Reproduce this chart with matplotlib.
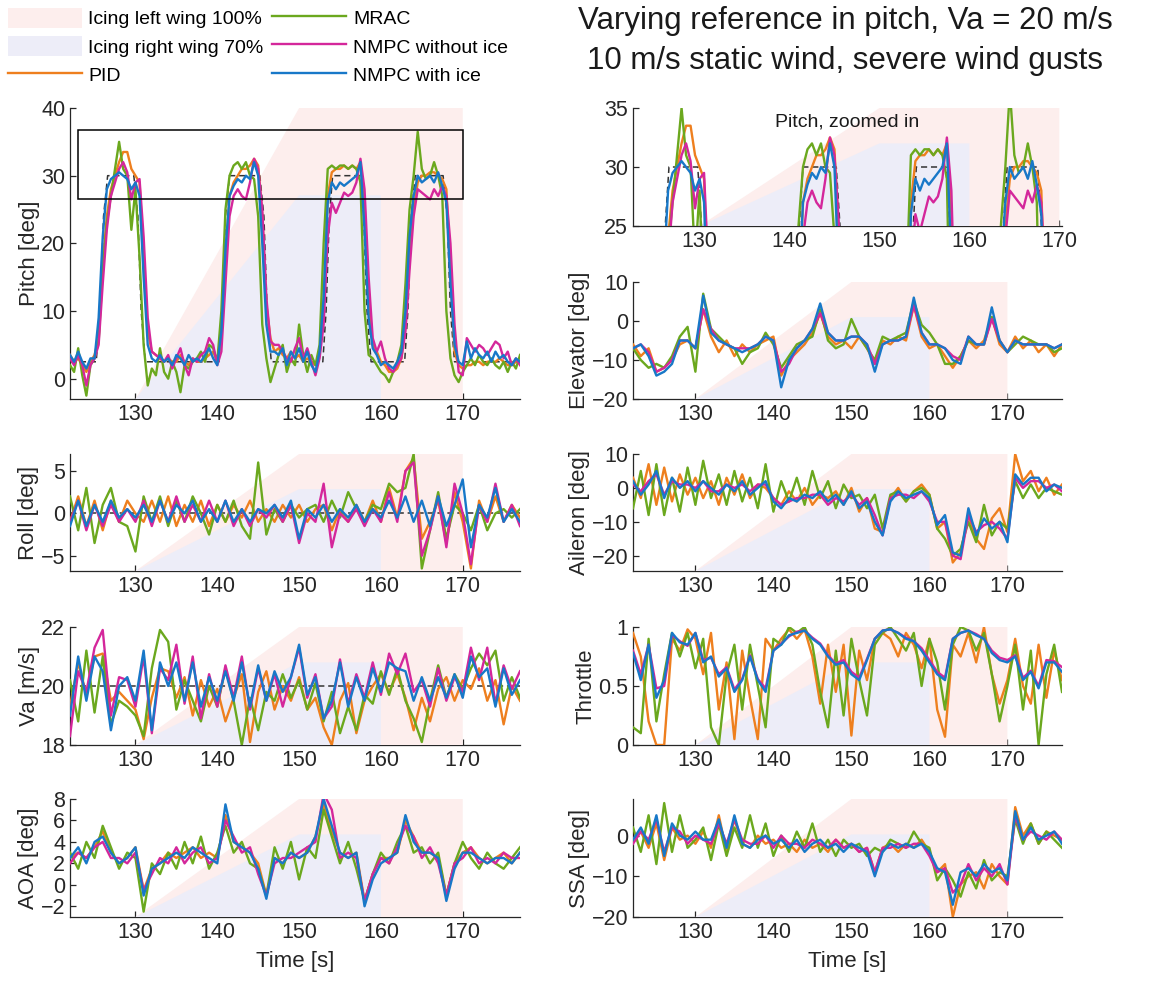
import numpy as np
import matplotlib
matplotlib.use('Agg')
import matplotlib.pyplot as plt
import matplotlib.transforms as mtransforms
from matplotlib.patches import Patch, Rectangle
from matplotlib.lines import Line2D

plt.rcParams['font.family'] = ['Liberation Sans', 'DejaVu Sans']

# ---- time axes (pitch read every 0.5 s, the rest every 1 s) ----
t_pitch = np.arange(122.0, 177.01, 0.5)
t = np.arange(122.0, 177.01, 1.0)

controllers = ['PID', 'MRAC', 'NMPC without ice', 'NMPC with ice']
colors = ['#EE7F1E', '#6BA81E', '#D4279B', '#1878C8']

# icing ramps: time breakpoints and fraction of the axis height
ice_left_t = [130, 150, 170, 170]
ice_left_frac = [0, 1, 1, 0]
ice_right_t = [130, 150, 160, 160]
ice_right_frac = [0, 0.7, 0.7, 0]

# pitch reference (dashed)
pitch_ref_t = [122, 125.2, 125.7, 126.1, 126.6, 129.8, 130.3, 130.7, 131.2,
               140.2, 140.6, 141.0, 141.5, 145.2, 145.7, 146.1, 146.6,
               152.9, 153.3, 153.7, 154.1, 157.4, 157.9, 158.3, 158.8,
               162.9, 163.3, 163.7, 164.2, 167.6, 168.1, 168.5, 169.0, 177]
pitch_ref = [2.5, 2.5, 10, 24, 30, 30, 24, 10, 2.5,
             2.5, 10, 24, 30, 30, 24, 10, 2.5,
             2.5, 10, 24, 30, 30, 24, 10, 2.5,
             2.5, 10, 24, 30, 30, 24, 10, 2.5, 2.5]
roll_ref = 0.0
va_ref = 20.0

# ---- pitch [deg], 0.5 s ----
pitch_pid = [3.5, 2.5, 3.0, 2.0, 1.0, 2.5, 3.5, 6.0, 17.0, 24.0,
             28.0, 30.0, 32.0, 33.5, 33.5, 31.0, 30.0, 29.0, 18.0, 7.0,
             4.0, 3.5, 3.0, 2.5, 3.0, 2.5, 2.5, 3.5, 2.5, 2.0,
             3.0, 2.5, 2.5, 3.0, 3.5, 4.0, 2.5, 6.0, 18.0, 27.0,
             29.0, 30.0, 31.0, 31.0, 31.5, 32.5, 31.5, 24.0, 11.0, 6.0,
             4.0, 4.5, 3.5, 3.0, 4.0, 3.0, 3.5, 2.5, 3.0, 2.5,
             2.0, 3.5, 11.0, 27.0, 30.5, 31.0, 31.0, 31.5, 31.0, 31.5,
             31.0, 32.0, 26.0, 12.0, 5.0, 4.0, 2.5, 2.0, 1.0, 1.0,
             1.5, 3.0, 8.0, 18.0, 25.0, 29.0, 30.0, 30.0, 30.5, 30.5,
             30.0, 29.5, 28.0, 16.0, 4.0, 2.0, 1.5, 2.0, 2.0, 2.5,
             2.5, 2.0, 2.5, 2.5, 2.5, 3.0, 2.5, 2.0, 2.0, 2.5,
             2.5]
pitch_mrac = [2.0, 1.0, 4.5, 0.5, -2.5, 2.0, 3.0, 5.5, 16.0, 23.0,
              27.0, 31.0, 35.0, 31.0, 30.0, 22.0, 28.0, 18.0, 5.0, -1.0,
              1.5, 0.5, 4.5, 1.0, 0.0, 2.5, 1.0, -2.0, 2.0, 1.5,
              2.5, 3.0, 4.0, 2.5, 5.0, 4.5, 2.5, 10.0, 25.0, 30.0,
              31.5, 32.0, 31.0, 32.0, 30.0, 29.5, 24.0, 8.0, 3.0, -0.5,
              1.5, 3.5, 5.0, 1.0, 3.0, 2.0, 8.0, 3.5, 1.0, 3.5,
              2.0, 5.0, 20.0, 31.0, 31.5, 31.0, 31.5, 31.5, 31.0, 31.5,
              31.0, 29.0, 10.0, 3.5, 3.0, 2.0, 1.0, 0.5, -0.5, 1.0,
              2.5, 5.0, 14.0, 25.0, 30.0, 36.5, 31.0, 29.5, 30.0, 32.0,
              30.0, 27.0, 10.0, 3.0, 0.5, -0.5, 1.0, 2.0, 3.0, 2.0,
              3.5, 2.5, 2.0, 3.0, 2.0, 1.5, 2.5, 1.0, 2.5, 1.5,
              3.5]
pitch_nmpc = [3.0, 2.0, 3.5, 2.0, -1.0, 2.0, 3.0, 5.0, 14.0, 22.0,
              27.0, 29.0, 31.0, 32.0, 30.5, 26.5, 29.0, 29.5, 21.0, 9.0,
              4.0, 3.5, 3.0, 2.5, 3.5, 1.5, 3.0, 4.5, 2.0, 0.5,
              3.0, 2.5, 3.5, 4.0, 6.0, 5.0, 2.0, 4.0, 14.0, 24.0,
              27.0, 28.0, 27.0, 26.5, 29.0, 32.5, 31.0, 25.0, 12.0, 5.5,
              5.0, 5.0, 4.0, 3.0, 2.5, 4.5, 6.0, 3.0, 4.5, 2.5,
              0.5, 3.0, 8.0, 21.0, 26.0, 24.5, 26.0, 27.5, 27.0, 27.5,
              29.0, 32.5, 28.0, 15.0, 6.0, 4.0, 5.5, 3.0, 1.5, 1.0,
              2.0, 3.0, 7.0, 16.0, 24.0, 28.0, 27.5, 27.0, 26.5, 28.0,
              27.0, 28.5, 27.0, 20.0, 8.0, 1.0, 0.5, 6.0, 5.0, 4.0,
              5.0, 4.5, 3.5, 4.5, 5.5, 5.0, 3.0, 4.0, 2.0, 3.0,
              2.0]
pitch_nmpc_ice = [3.5, 2.5, 4.0, 2.5, 1.5, 3.0, 3.0, 9.0, 21.0, 28.0,
                  29.5, 30.0, 30.5, 30.0, 29.5, 28.0, 29.0, 27.0, 15.0, 5.0,
                  3.0, 2.5, 3.5, 2.5, 3.0, 2.0, 3.5, 3.0, 2.0, 3.5,
                  2.5, 3.0, 2.5, 3.5, 4.5, 3.0, 2.0, 7.0, 19.0, 27.0,
                  28.5, 29.5, 29.0, 30.0, 29.5, 32.0, 30.0, 20.0, 8.0, 4.0,
                  4.0, 3.5, 4.5, 2.0, 4.0, 3.0, 4.5, 2.5, 4.0, 2.0,
                  1.0, 4.0, 12.0, 26.0, 29.0, 28.0, 29.0, 28.5, 29.0, 29.5,
                  30.0, 32.0, 22.0, 9.0, 4.5, 3.5, 2.0, 2.5, 2.0, 1.5,
                  2.5, 4.0, 10.0, 21.0, 27.0, 30.0, 29.0, 29.5, 30.0, 29.0,
                  30.5, 28.5, 26.0, 14.0, 5.0, 2.5, 2.0, 5.5, 3.0, 4.5,
                  3.5, 3.0, 4.0, 2.5, 4.0, 3.0, 3.5, 2.5, 2.0, 3.0,
                  2.5]

# ---- elevator [deg], 1 s ----
elev_pid = [-6, -9, -7, -13, -12, -10, -6, -5, -7, 3, -4, -8, -5, -9, -6, -8, -6, -5, -4, -14,
            -10, -8, -6, -3, 2, -4, -6, -5, -7, -4, -7, -11, -5, -6, -4, -5, 4, -4, -7, -6,
            -9, -12, -9, -5, -7, -5, 1, -6, -8, -4, -7, -5, -8, -6, -9, -6]
elev_mrac = [-7, -10, -12, -11, -12, -9, -4, -1.5, -13, 7, -2, -4, -6, -7, -11, -8, -7, -3, -6, -12,
             -9, -6, -5, -4, 3, -5, -7, -6, 0.5, -4, -7, -10, -4, -5, -4, -3, 5, -1, -3, -6,
             -11, -11, -9, -5, -6, -6, 1, -5, -8, -6, -4, -5, -6, -6, -8, -7]
elev_nmpc = [-7, -6, -8, -13, -12, -10, -5, -5, -7, 3, -2, -5, -6, -7, -7, -7, -6, -4, -5, -13,
             -11, -7, -5, -2, 2, -3, -5, -5, -4, -4, -6, -11, -6, -5, -5, -4, 4, -3, -6, -6,
             -7, -9, -10, -4, -6, -6, 0.5, -5, -8, -5, -6, -6, -6, -6, -7, -6]
elev_nmpc_ice = [-7, -6, -9, -14, -13, -11, -5, -5, -7, 6.5, -3, -5, -6, -7, -8, -7, -6, -4, -5, -17,
                 -10, -7, -5, -2, 4.5, -3, -5, -5, -4, -4, -6, -13, -6, -5, -5, -4, 6, -3, -6, -6,
                 -7, -10, -11, -4, -6, -6, 3.5, -5, -8, -5, -6, -6, -6, -6, -7, -6]

# ---- roll [deg] ----
roll_pid = [-1, 2, -1.5, 1.5, -2, 1.5, -1, 1.5, 0, -1, 1.5, -1, 2, -1.5, 1, -1, 1.5, -1.5, 1, -1,
            1, -0.5, 1.5, -1, 0.5, -1, 1, -0.5, 1, -1, 0.5, 1, -2, 0.5, -1, 1, -1, 1.5, -1, 3,
            -0.5, 5, 6.5, -3, -1, 1.5, -3.5, 2.5, -1, -6.5, 1.5, -1, 2, -1, 1, -0.5]
roll_mrac = [2, -2, 3, -3.5, 1, 3, -1, -1.5, -4.5, 2, -1, 2, -1.5, 1.5, -1, 2, 0, -2.5, 1, -1,
             1.5, -1.5, -3, 6, -2.5, 0.5, -1, 1, -0.5, 0.5, 1, -1, 1.5, -0.5, 2.5, 0.5, -1, 1, 0.5, 3.5,
             2.5, 3, 7, -6.5, -2, 2.5, -3, 1, 0, -2, 1, -2, 0, 0.5, -0.5, 0.5]
roll_nmpc = [-1, 1.5, -2, 1, -1.5, 1, -1, 0.5, -1, 1.5, -1.5, 1.5, -1, 2, -1, 1, -1, 1.5, -1, 1.5,
             -1.5, 0.5, -1.5, 0.5, -0.5, 1, -1, 1, -3.5, 0, -1, 3.5, -4, 0, -1, 0.5, -1.5, 0.5, -1, 2.5,
             -1, 5, 6, -5, -2, 2, -4, 3.5, 0, -6, 1, -1, 3.5, -1, 1, -1.5]
roll_nmpc_ice = [-1.5, 1.5, -1.5, 1, -1, 1.5, -0.5, 0.5, -0.5, 1, -1, 1.5, -1, 1, 0, 1.5, -1, 0.5, -1, 1.5,
                 -1, 0.5, -1, 0.5, 0, 1, -0.5, 1.5, -3, 0.5, -0.5, 1, -1, 0.5, -0.5, 1, -1, 0.5, -0.5, 1.5,
                 -0.5, 2, -1, 1.5, -1.5, 2, -1.5, 1, 4, -4, 1, -0.5, 3, -1, 0.5, -1]

# ---- aileron [deg] ----
ail_pid = [3, -3, 7, -5, 6, -4, 4, -2, 3, -3, 2, -5, 3, -2, 4, -3, 1, 0, -3, -5,
           -1, -4, 0, -5, -2, -3, -1, -5, 0, -7, -3, -12, -13, -3, 0, -4, -1, 1, -2, -12,
           -10, -22, -19, -8, -15, -18, -9, -6, -13, 10, 2, 5, -1, 3, -2, 1]
ail_mrac = [-6, 5, -8, 7, -8, 3, -7, 6, -5, 8, -3, 4, -5, 5, -4, 3, -6, 7, -7, 2,
            -4, 3, -5, 5, -3, 2, -6, 1, -3, -2, -6, -2, -12, -2, -1, -4, -1, 0, -2, -12,
            -15, -20, -18, -10, -16, -5, -14, -10, -12, 2, -3, 1, -3, 0, -1, -2]
ail_nmpc = [1, -1, 2, 4, -2, 2, 1, 1, 0, 2, -1, -1, 1, 0, 1, -1, 1, 1, -3, -5,
            -4, -3, -3, -2, -2, -5, -3, -4, -2, -5, -3, -8, -14, -3, -2, -2, -3, -1, -4, -10,
            -10, -20, -21, -8, -13, -11, -10, -12, -15, 3, 0, 2, 2, 0, 1, -1]
ail_nmpc_ice = [2, -2, 1, 5, -3, 3, 0, 2, -1, 2, 0, -2, 1, -1, 2, -2, 0, 2, -4, -6,
                -3, -4, -2, -3, -1, -4, -2, -5, -1, -6, -4, -10, -14, -4, -1, -3, -2, -1, -3, -11,
                -8, -19, -20, -6, -14, -9, -12, -10, -16, 4, 1, 3, 3, -1, 1, 0]

# ---- airspeed [m/s] ----
va_pid = [19.3, 20.8, 19.7, 21, 21.1, 19.5, 19.8, 19.5, 19.2, 18.2,
          19.6, 20.6, 20.5, 19.6, 20.3, 19, 20.2, 19.3, 19.9, 18.8,
          19.6, 20.4, 18.1, 19.8, 20.5, 19.2, 20, 19.5, 20.3, 19.2,
          19.6, 18.6, 18, 19.5, 20.1, 18.4, 19.5, 20, 20.4, 19.8,
          20.4, 19.6, 18.5, 19.6, 18.8, 19.9, 20.3, 19.5, 20.2, 19.9,
          20.6, 19.5, 20.2, 18.7, 20, 19.5]
va_mrac = [20.2, 18.8, 21.2, 19.1, 21, 18.7, 19.5, 19.3, 19, 18.3,
           20.6, 21.9, 21.5, 19.2, 20.2, 19.5, 18.8, 20, 19.3, 20.6,
           19.5, 18, 19.6, 18.5, 19.8, 19.5, 20.4, 19.6, 20.2, 19.2,
           20.1, 18.8, 19.8, 18.4, 19.3, 18.5, 19.7, 19.4, 20.5, 19.7,
           20.6, 19.5, 18.9, 18.1, 19.5, 20.7, 19.6, 20.4, 19.9, 20.6,
           21.1, 20.7, 21.2, 19.5, 20.3, 19.6]
va_nmpc = [18.3, 20.5, 19.8, 21.3, 21.9, 19, 20.3, 20.2, 19.3, 21,
           18.4, 20.6, 20.2, 21.4, 19.4, 21, 18.9, 20.4, 19.3, 20.7,
           19.6, 21, 19.2, 20.6, 19.5, 20.4, 19.3, 20.3, 21.3, 19.6,
           20.4, 18.9, 19.3, 20.9, 19.4, 20.4, 19.6, 20.8, 19.7, 21.1,
           20.4, 21.1, 19.8, 20.2, 19.3, 20.6, 19.5, 20.3, 19.8, 21.3,
           20.2, 21.3, 19.4, 20.7, 19.9, 20.5]
va_nmpc_ice = [19, 21, 19.5, 21, 20.5, 18.5, 20, 20.3, 19.5, 21.2,
               18.5, 20.8, 20, 20.8, 19.5, 20.8, 19.3, 20.3, 19.5, 20.5,
               19.5, 20.8, 19.3, 20.7, 19.5, 20.5, 19.8, 20.3, 21.4, 19.7,
               20.3, 18.9, 19.5, 20.8, 19.3, 20.3, 19.5, 20.6, 19.8, 20.8,
               20.6, 20.5, 19.5, 20.3, 19.5, 20.3, 19.6, 20.4, 19.6, 21,
               20.3, 20.6, 19.3, 20.6, 19.7, 20.2]

# ---- throttle [-] ----
thr_pid = [0.95, 0.75, 0.2, 0.0, 0.0, 0.9, 0.8, 0.98, 0.9, 0.6,
           0.95, 0.3, 0.7, 0.05, 0.8, 0.4, 0.05, 0.9, 0.8, 0.9,
           0.98, 0.9, 0.98, 0.75, 0.35, 0.85, 0.45, 0.85, 0.08, 0.8,
           0.55, 0.9, 0.95, 0.9, 0.75, 0.95, 0.85, 0.65, 0.9, 0.3,
           0.07, 0.85, 0.75, 0.95, 0.7, 1.0, 0.6, 0.35, 0.55, 0.9,
           0.5, 0.35, 0.85, 0.4, 0.8, 0.55]
thr_mrac = [0.15, 0.1, 0.9, 0.2, 0.6, 0.95, 0.75, 0.95, 0.65, 0.9,
            0.15, 0.0, 0.6, 0.85, 0.3, 0.85, 0.5, 0.15, 0.9, 0.85,
            1.0, 0.95, 1.0, 0.85, 0.45, 0.15, 0.8, 0.25, 0.9, 0.55,
            0.25, 0.85, 0.95, 1.0, 0.9, 0.8, 0.95, 0.5, 0.9, 0.7,
            0.3, 0.85, 1.0, 0.97, 0.8, 0.95, 0.6, 0.2, 0.5, 0.85,
            0.3, 0.8, 0.0, 0.6, 0.85, 0.45]
thr_nmpc = [0.8, 0.6, 0.85, 0.48, 0.5, 0.93, 0.88, 0.84, 0.95, 0.72,
            0.74, 0.6, 0.66, 0.47, 0.56, 0.76, 0.56, 0.48, 0.8, 0.86,
            0.92, 0.96, 0.97, 0.91, 0.86, 0.76, 0.69, 0.72, 0.62, 0.57,
            0.73, 0.9, 0.97, 0.98, 0.95, 0.91, 0.88, 0.82, 0.72, 0.62,
            0.57, 0.9, 0.95, 0.97, 0.94, 0.9, 0.8, 0.74, 0.72, 0.76,
            0.57, 0.63, 0.5, 0.72, 0.71, 0.66]
thr_nmpc_ice = [0.78, 0.55, 0.85, 0.4, 0.55, 0.95, 0.87, 0.85, 0.95, 0.7,
                0.75, 0.58, 0.65, 0.45, 0.55, 0.75, 0.55, 0.45, 0.8, 0.85,
                0.93, 0.95, 0.97, 0.9, 0.85, 0.75, 0.68, 0.7, 0.6, 0.55,
                0.72, 0.9, 0.97, 0.98, 0.95, 0.9, 0.88, 0.8, 0.7, 0.6,
                0.55, 0.9, 0.95, 0.97, 0.93, 0.9, 0.78, 0.72, 0.7, 0.75,
                0.55, 0.62, 0.48, 0.7, 0.7, 0.62]

# ---- angle of attack [deg] ----
aoa_pid = [2.5, 3, 2.5, 3.5, 5, 3, 2, 2.5, 3.5, -0.5,
           1.5, 2, 3, 2.5, 3, 3.5, 2.5, 3, 2.5, 6.5,
           4, 3.5, 3, 2, -1, 2.5, 2, 3, 2.5, 3,
           4.5, 7.5, 5, 3, 2.5, 3, -1.5, 1, 2.5, 2.5,
           3, 6, 4.5, 3, 3, 2.5, -1, 2, 3, 3.5,
           2.5, 2, 2.5, 3, 2, 3]
aoa_mrac = [3, 1.5, 4, 2.5, 5.5, 3.5, 1.5, 3, 2.5, -2.5,
            2, 1, 3, 1.5, 4, 2, 4.5, 1.5, 3, 5.5,
            3, 4, 2, 1.5, -1, 3.5, 1.5, 4, 0.5, 3.5,
            2.5, 7, 4.5, 2, 4, 1.5, -1.5, 1, 3, 2,
            4, 5.5, 3, 3.5, 2, 3, -1, 2, 4, 2.5,
            1.5, 3, 2, 1.5, 2.5, 3.5]
aoa_nmpc = [2, 3, 2.5, 3.5, 4, 2.5, 2.5, 2, 3, -0.5,
            1, 2.5, 2, 3.5, 2, 3, 3.5, 2, 2.5, 6,
            4.5, 3, 3.5, 1, -1, 2, 2.5, 2.5, 3, 3.5,
            4, 8.5, 7, 2.5, 3, 2.5, -1.5, 1, 2.5, 2,
            3.5, 5.5, 4.5, 2.5, 3.5, 2, -1, 2, 2.5, 3.5,
            2, 2.5, 2, 3, 2.5, 2.5]
aoa_nmpc_ice = [2.5, 3.5, 2, 4, 4.5, 3, 2, 2.5, 3.5, -1,
                1.5, 2, 2.5, 3, 2.5, 3.5, 3, 2.5, 2, 7.5,
                4, 3.5, 3, 1.5, -1.3, 2.5, 2, 3, 2.5, 3,
                4.5, 8, 5.5, 3, 2.5, 3, -2, 0.5, 2, 2.5,
                3, 6.5, 4, 3, 3, 2.5, -1.5, 1.5, 3, 3,
                2.5, 2, 2.5, 2.5, 2, 3]

# ---- sideslip angle [deg] ----
ssa_pid = [-1, 1, -3, 3, -6, 2, -1, 0, -2, 1, -3, 5, -4, 4, -2, -3, 0, -2, -1, -3,
           -2, -4, -1, -3, -2, -4, -1, -3, -2, -4, -3, -9, -3, -2, -4, -2, -3, -1, -4, -9,
           -7, -20, -12, -10, -9, -13, -7, -10, -12, 7, 0, 3, -2, 1, 0, -1]
ssa_mrac = [2, -4, 5, -7, 8, -4, 5, -3, -1, 2, -6, 3, -5, 2, -3, 5, -3, 3, -5, 0,
            -4, 1, -3, 3, -4, -1, -5, -1, -3, -2, -5, -3, -4, -1, -2, -3, 1, -2, -3, -11,
            -8, -11, -15, -9, -13, -6, -11, -9, -10, 4, -2, 3, -2, 1, -1, -3]
ssa_nmpc = [-2, 1, -1, 4, -4, 2, 1, -2, 0, -1, -2, 3, -2, 4, -1, -2, -2, 0, -3, 0,
            -2, -2, -3, -1, -2, -3, -1, -3, -2, -4, -3, -9, -3, -3, -2, -3, -2, -2, -5, -9,
            -8, -14, -12, -7, -11, -8, -10, -7, -12, 5, -1, 1, 0, -1, 1, -1]
ssa_nmpc_ice = [-1, 2, -2, 5, -5, 3, 0, -1, 1, -1, -1, 4, -3, 5, -2, -3, -1, 0, -2, -1,
                -3, -1, -4, -2, -1, -3, -2, -4, -2, -3, -4, -10, -4, -2, -3, -2, -3, -2, -4, -8,
                -9, -17, -9, -8, -10, -7, -9, -8, -11, 6, -1, 2, -1, 0, 1, -2]

pink = '#FDEEED'
lavender = '#EDEDF8'
axis_col = '#262626'


def panel(ax, tt, series, ylim, yticks, ylabel, xlim=(122, 177), ref=None,
          yticklabels=None):
    trans = mtransforms.blended_transform_factory(ax.transData, ax.transAxes)
    ax.fill(ice_left_t, ice_left_frac, color=pink, lw=0, transform=trans, zorder=2.6)
    ax.fill(ice_right_t, ice_right_frac, color=lavender, lw=0, transform=trans, zorder=2.7)
    if ref is not None:
        ax.plot(ref[0], ref[1], linestyle=(0, (4, 2.5)), color='#333333', lw=1.1, zorder=2.9)
    for s, c in zip(series, colors):
        ax.plot(tt, s, color=c, lw=1.7, zorder=3)
    ax.set_xlim(*xlim)
    ax.set_ylim(*ylim)
    ax.set_xticks([130, 140, 150, 160, 170])
    ax.set_yticks(yticks)
    if yticklabels is not None:
        ax.set_yticklabels(yticklabels)
    ax.set_ylabel(ylabel, fontsize=16, color=axis_col, labelpad=1)
    for side in ['top', 'right']:
        ax.spines[side].set_visible(False)
    for side in ['left', 'bottom']:
        ax.spines[side].set_color(axis_col)
        ax.spines[side].set_linewidth(0.9)
    ax.tick_params(direction='in', length=4, width=0.9, colors=axis_col,
                   labelsize=15.5)


fig = plt.figure(figsize=(11.67, 9.82), dpi=100)

lx, lw_ = 70 / 1167, 450 / 1167
rx, rw = 633 / 1167, 429 / 1167

def frac(top, bottom):
    return [1 - bottom / 982, (bottom - top) / 982]

ax_pitch = fig.add_axes([lx, frac(108, 399)[0], lw_, frac(108, 399)[1]])
ax_zoom = fig.add_axes([rx, frac(108, 226)[0], rw, frac(108, 226)[1]])
ax_elev = fig.add_axes([rx, frac(282, 399)[0], rw, frac(282, 399)[1]])
ax_roll = fig.add_axes([lx, frac(454, 571)[0], lw_, frac(454, 571)[1]])
ax_ail = fig.add_axes([rx, frac(454, 571)[0], rw, frac(454, 571)[1]])
ax_va = fig.add_axes([lx, frac(627, 745)[0], lw_, frac(627, 745)[1]])
ax_thr = fig.add_axes([rx, frac(627, 745)[0], rw, frac(627, 745)[1]])
ax_aoa = fig.add_axes([lx, frac(799, 917)[0], lw_, frac(799, 917)[1]])
ax_ssa = fig.add_axes([rx, frac(799, 917)[0], rw, frac(799, 917)[1]])

pitch_series = [pitch_pid, pitch_mrac, pitch_nmpc, pitch_nmpc_ice]
panel(ax_pitch, t_pitch, pitch_series, (-3, 40), [0, 10, 20, 30, 40], 'Pitch [deg]',
      ref=(pitch_ref_t, pitch_ref))
zoom_box_t = (123.0, 170.0)
zoom_box_y = (26.5, 36.7)
ax_pitch.add_patch(Rectangle((zoom_box_t[0], zoom_box_y[0]), zoom_box_t[1] - zoom_box_t[0],
                             zoom_box_y[1] - zoom_box_y[0], fill=False, ec='black', lw=1.1, zorder=4))

panel(ax_zoom, t_pitch, pitch_series, (25, 35), [25, 30, 35], '', xlim=(122.6, 170.3),
      ref=(pitch_ref_t, pitch_ref))
ax_zoom.text(0.5, 0.95, 'Pitch, zoomed in', transform=ax_zoom.transAxes, ha='center',
             va='top', fontsize=14, color='#1a1a1a', zorder=5)

panel(ax_elev, t, [elev_pid, elev_mrac, elev_nmpc, elev_nmpc_ice], (-20, 10),
      [-20, -10, 0, 10], 'Elevator [deg]')
panel(ax_roll, t, [roll_pid, roll_mrac, roll_nmpc, roll_nmpc_ice], (-6.8, 7),
      [-5, 0, 5], 'Roll [deg]', ref=([122, 177], [roll_ref, roll_ref]))
panel(ax_ail, t, [ail_pid, ail_mrac, ail_nmpc, ail_nmpc_ice], (-24.5, 10),
      [-20, -10, 0, 10], 'Aileron [deg]')
panel(ax_va, t, [va_pid, va_mrac, va_nmpc, va_nmpc_ice], (18, 22),
      [18, 20, 22], 'Va [m/s]', ref=([122, 177], [va_ref, va_ref]))
panel(ax_thr, t, [thr_pid, thr_mrac, thr_nmpc, thr_nmpc_ice], (0, 1),
      [0, 0.5, 1], 'Throttle', yticklabels=['0', '0.5', '1'])
panel(ax_aoa, t, [aoa_pid, aoa_mrac, aoa_nmpc, aoa_nmpc_ice], (-3, 8),
      [-2, 0, 2, 4, 6, 8], 'AOA [deg]')
panel(ax_ssa, t, [ssa_pid, ssa_mrac, ssa_nmpc, ssa_nmpc_ice], (-20, 9),
      [-20, -10, 0], 'SSA [deg]')
for ax in (ax_aoa, ax_ssa):
    ax.set_xlabel('Time [s]', fontsize=16, color=axis_col, labelpad=6)

fig.text(0.724, 1 - 21 / 982, 'Varying reference in pitch, Va = 20 m/s',
         ha='center', va='center', fontsize=22.5, color='#1a1a1a')
fig.text(0.724, 1 - 61 / 982, '10 m/s static wind, severe wind gusts',
         ha='center', va='center', fontsize=22.5, color='#1a1a1a')

handles = [Patch(facecolor=pink, edgecolor='none'),
           Patch(facecolor=lavender, edgecolor='none'),
           Line2D([], [], color=colors[0], lw=1.7),
           Line2D([], [], color=colors[1], lw=1.7),
           Line2D([], [], color=colors[2], lw=1.7),
           Line2D([], [], color=colors[3], lw=1.7)]
labels = ['Icing left wing 100%', 'Icing right wing 70%', 'PID',
          'MRAC', 'NMPC without ice', 'NMPC with ice']
fig.legend(handles, labels, loc='upper left', bbox_to_anchor=(0.0, 1.0), ncol=2,
           frameon=False, fontsize=14, handlelength=3.8, handleheight=1.2,
           handletextpad=0.35, columnspacing=0.45, labelspacing=0.4,
           borderaxespad=0.2, borderpad=0.2)

fig.savefig('out.png', dpi=100)
